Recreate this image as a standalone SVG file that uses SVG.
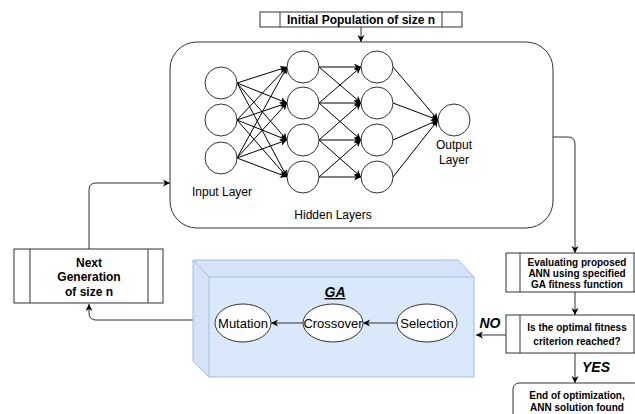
<svg xmlns="http://www.w3.org/2000/svg" width="635" height="414" viewBox="0 0 635 414">
<style>
.box{fill:#fff;stroke:#333;stroke-width:1}
.nn{fill:#fff;stroke:#333;stroke-width:1}
.ln{fill:none;stroke:#000;stroke-width:1}
.fl{fill:none;stroke:#333;stroke-width:1}
.t{font-family:"Liberation Sans",Arial,sans-serif;fill:#000;text-anchor:middle}
.b{font-weight:bold}
.bi{font-weight:bold;font-style:italic}
</style>
<defs>
<marker id="ah" markerUnits="userSpaceOnUse" markerWidth="8" markerHeight="8" refX="7" refY="3.5" orient="auto">
<path d="M0,0 L7,3.5 L0,7 L2,3.5 Z" fill="#000"/>
</marker>
</defs>
<rect width="635" height="414" fill="#fff"/>

<g id="connectors">
<path class="fl" d="M361,27 L361,42" marker-end="url(#ah)"/>
<path class="fl" d="M553,137 L568,137 Q575,137 575,144 L575,253" marker-end="url(#ah)"/>
<path class="fl" d="M575,292 L575,315" marker-end="url(#ah)"/>
<path class="fl" d="M575,353 L575,383" marker-end="url(#ah)"/>
<path class="fl" d="M506,335 L476,335" marker-end="url(#ah)"/>
<path class="fl" d="M193,320 L96,320 Q89,320 89,313 L89,304" marker-end="url(#ah)"/>
<path class="fl" d="M89,249 L89,190 Q89,183 96,183 L170,183" marker-end="url(#ah)"/>
</g>

<g id="initial-population">
<rect class="box" x="260" y="12" width="202" height="15"/>
<path class="fl" d="M280,12 V27 M442,12 V27"/>
<text class="t b" x="361" y="24" font-size="12">Initial Population of size n</text>
</g>

<g id="ann">
<rect class="box" x="170" y="42" width="383" height="186" rx="27" ry="27"/>
<g id="nn-edges" marker-end="url(#ah)">
<line class="ln" x1="237" y1="83" x2="287" y2="67"/>
<line class="ln" x1="237" y1="83" x2="287" y2="103"/>
<line class="ln" x1="237" y1="83" x2="287" y2="140"/>
<line class="ln" x1="237" y1="83" x2="287" y2="177"/>
<line class="ln" x1="237" y1="120" x2="287" y2="67"/>
<line class="ln" x1="237" y1="120" x2="287" y2="103"/>
<line class="ln" x1="237" y1="120" x2="287" y2="140"/>
<line class="ln" x1="237" y1="120" x2="287" y2="177"/>
<line class="ln" x1="237" y1="158" x2="287" y2="67"/>
<line class="ln" x1="237" y1="158" x2="287" y2="103"/>
<line class="ln" x1="237" y1="158" x2="287" y2="140"/>
<line class="ln" x1="237" y1="158" x2="287" y2="177"/>
<line class="ln" x1="319" y1="67" x2="361" y2="67"/>
<line class="ln" x1="319" y1="67" x2="361" y2="103"/>
<line class="ln" x1="319" y1="103" x2="361" y2="67"/>
<line class="ln" x1="319" y1="103" x2="361" y2="103"/>
<line class="ln" x1="319" y1="103" x2="361" y2="140"/>
<line class="ln" x1="319" y1="140" x2="361" y2="103"/>
<line class="ln" x1="319" y1="140" x2="361" y2="140"/>
<line class="ln" x1="319" y1="140" x2="361" y2="177"/>
<line class="ln" x1="319" y1="177" x2="361" y2="140"/>
<line class="ln" x1="319" y1="177" x2="361" y2="177"/>
<line class="ln" x1="393" y1="67" x2="438" y2="120"/>
<line class="ln" x1="393" y1="103" x2="438" y2="120"/>
<line class="ln" x1="393" y1="140" x2="438" y2="120"/>
<line class="ln" x1="393" y1="177" x2="438" y2="120"/>
</g>
<g id="input-layer">
<circle class="nn" cx="221" cy="83" r="16"/>
<circle class="nn" cx="221" cy="120" r="16"/>
<circle class="nn" cx="221" cy="158" r="16"/>
</g>
<g id="hidden-layer-1">
<circle class="nn" cx="303" cy="67" r="16"/>
<circle class="nn" cx="303" cy="103" r="16"/>
<circle class="nn" cx="303" cy="140" r="16"/>
<circle class="nn" cx="303" cy="177" r="16"/>
</g>
<g id="hidden-layer-2">
<circle class="nn" cx="377" cy="67" r="16"/>
<circle class="nn" cx="377" cy="103" r="16"/>
<circle class="nn" cx="377" cy="140" r="16"/>
<circle class="nn" cx="377" cy="177" r="16"/>
</g>
<g id="output-layer">
<circle class="nn" cx="454" cy="120" r="16"/>
</g>
<text class="t" x="222" y="196" font-size="12">Input Layer</text>
<text class="t" x="333" y="219" font-size="12">Hidden Layers</text>
<text class="t" x="454" y="149" font-size="12">Output</text>
<text class="t" x="454" y="164" font-size="12">Layer</text>
</g>

<g id="evaluating">
<rect class="box" x="506" y="253" width="142" height="39"/>
<path class="fl" d="M520,253 V292 M634,253 V292"/>
<text class="t b" x="577" y="266" font-size="10">Evaluating proposed</text>
<text class="t b" x="577" y="277" font-size="10">ANN using specified</text>
<text class="t b" x="577" y="288" font-size="10">GA fitness function</text>
</g>

<g id="decision">
<rect class="box" x="506" y="315" width="142" height="38"/>
<path class="fl" d="M520,315 V353 M634,315 V353"/>
<text class="t b" x="577" y="331" font-size="10">Is the optimal fitness</text>
<text class="t b" x="577" y="345" font-size="10">criterion reached?</text>
</g>

<text class="t bi" x="490" y="328" font-size="14">NO</text>
<text class="t bi" x="596" y="372" font-size="14">YES</text>

<g id="end">
<rect class="box" x="513" y="383" width="128" height="45" rx="6" ry="6"/>
<text class="t b" x="577" y="399" font-size="10">End of optimization,</text>
<text class="t b" x="577" y="411" font-size="10">ANN solution found</text>
</g>

<g id="next-generation">
<rect class="box" x="14" y="249" width="149" height="54"/>
<path class="fl" d="M30,249 V303 M148,249 V303"/>
<text class="t b" x="89" y="267" font-size="12">Next</text>
<text class="t b" x="89" y="281" font-size="12">Generation</text>
<text class="t b" x="89" y="296" font-size="12">of size n</text>
</g>

<g id="ga">
<path d="M193,260 L458,260 L474,277 L474,377 L209,377 L193,361 Z" fill="#dae8fc" stroke="#a4bde3" stroke-width="1"/>
<path d="M193,260 L458,260 L474,277 L209,277 L209,377 L193,361 Z" fill="#000" fill-opacity="0.02" stroke="none"/>
<path d="M209,377 L209,277 L474,277 M209,277 L193,260" fill="none" stroke="#a4bde3" stroke-width="1"/>
<text class="t bi" x="335" y="297" font-size="14" text-decoration="underline">GA</text>
<path class="fl" d="M397,323 L363,323" stroke="#555" marker-end="url(#ah)"/>
<path class="fl" d="M303,323 L271,323" stroke="#555" marker-end="url(#ah)"/>
<g id="mutation">
<ellipse class="nn" cx="243" cy="323" rx="28" ry="19"/>
<text class="t" x="243" y="328" font-size="13">Mutation</text>
</g>
<g id="crossover">
<ellipse class="nn" cx="333" cy="323" rx="30" ry="19"/>
<text class="t" x="333" y="328" font-size="13">Crossover</text>
</g>
<g id="selection">
<ellipse class="nn" cx="427" cy="323" rx="30" ry="19"/>
<text class="t" x="427" y="328" font-size="13">Selection</text>
</g>
</g>
</svg>
